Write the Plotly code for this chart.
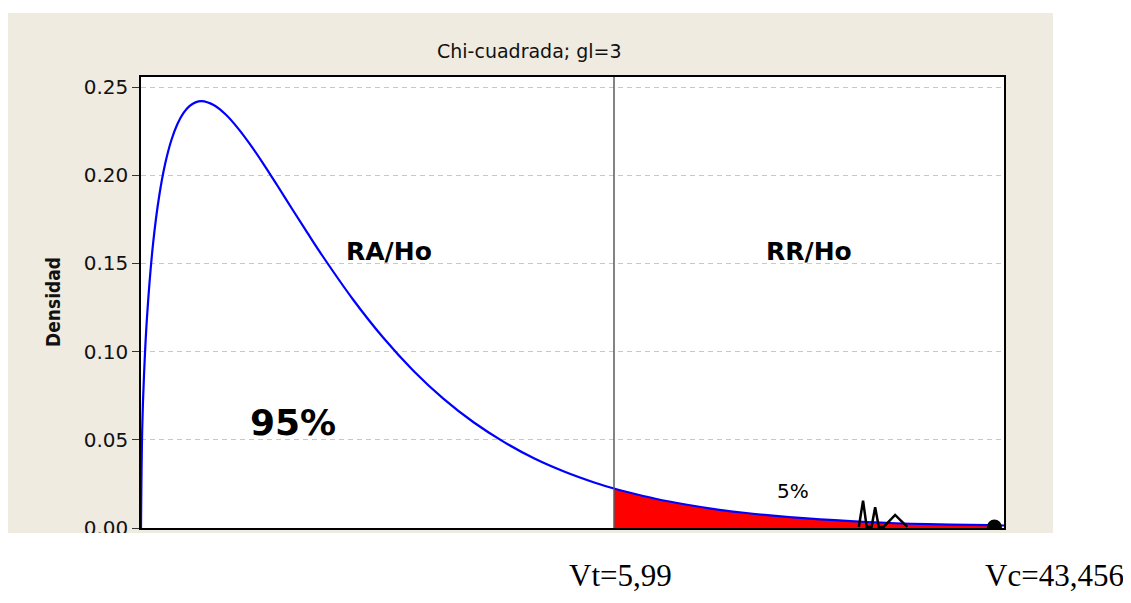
import plotly.graph_objects as go

# ---- data ----
chi_x = [0, 0.02, 0.05, 0.1, 0.2, 0.3, 0.4, 0.5, 0.6, 0.7, 0.8, 0.9, 1.0, 1.2, 1.4,
         1.6, 1.8, 2.0, 2.25, 2.5, 2.75, 3.0, 3.5, 4.0, 4.5, 5.0, 5.5, 6.0, 6.5, 7.0,
         7.5, 7.815, 8.0, 8.5, 9.0, 9.5, 10, 11, 12, 13, 14, 14.1, 14.27]
density = [0, 0.0559, 0.0870, 0.1200, 0.1614, 0.1881, 0.2066, 0.2197, 0.2289, 0.2352,
           0.2392, 0.2413, 0.2420, 0.2398, 0.2344, 0.2267, 0.2176, 0.2076, 0.1943, 0.1807,
           0.1673, 0.1542, 0.1297, 0.1080, 0.0892, 0.0732, 0.0598, 0.0487, 0.0394, 0.0319,
           0.0257, 0.0224, 0.0207, 0.0166, 0.0133, 0.0106, 0.0085, 0.0054, 0.0034, 0.0022,
           0.0016, 0.0015, 0.0014]
critical_x = 7.815
vc_point_x = [14.1]
vc_point_y = [0.0006]
break_x = [11.86, 11.93, 11.99, 12.07, 12.13, 12.19, 12.27, 12.46, 12.66]
break_y = [0.0006, 0.0155, 0.0006, 0.0006, 0.0118, 0.0006, 0.0006, 0.0074, 0.0006]
y_ticks = [0.00, 0.05, 0.10, 0.15, 0.20, 0.25]
y_tick_labels = ["0.00", "0.05", "0.10", "0.15", "0.20", "0.25"]

tail_x = [x for x in chi_x if critical_x <= x <= vc_point_x[0]]
tail_y = [d for x, d in zip(chi_x, density) if critical_x <= x <= vc_point_x[0]]

# page body has an 8px margin on every side: shrink and shift the figure so it fits
OFF = 8
W, H = 1131 - OFF, 603 - 2 * OFF
L, R, T, B = 141, 1004, 77, 528   # plot area in reference pixels

fig = go.Figure()
fig.add_trace(go.Scatter(x=tail_x, y=tail_y, mode="lines", fill="tozeroy",
                         fillcolor="#FF0000", line=dict(width=0, color="#FF0000"),
                         hoverinfo="skip"))
fig.add_trace(go.Scatter(x=chi_x, y=density, mode="lines", line_shape="spline",
                         line=dict(color="#0000FF", width=2.2)))
fig.add_trace(go.Scatter(x=break_x, y=break_y, mode="lines",
                         line=dict(color="black", width=2.5)))
fig.add_trace(go.Scatter(x=vc_point_x, y=vc_point_y, mode="markers",
                         marker=dict(color="black", size=15)))

def px2paper_x(p):
    return (p - L) / (R - L)

def px2paper_y(p):
    return (B - p) / (B - T)

shapes = [
    dict(type="rect", xref="paper", yref="paper", layer="below",
         x0=px2paper_x(8), x1=px2paper_x(1053), y0=px2paper_y(533), y1=px2paper_y(13),
         fillcolor="#EFEBE1", line=dict(width=0)),
    dict(type="rect", xref="paper", yref="paper", layer="below",
         x0=0, x1=1, y0=0, y1=1, fillcolor="white", line=dict(width=0)),
    dict(type="line", xref="x", yref="paper", x0=critical_x, x1=critical_x, y0=0, y1=1,
         line=dict(color="#5A5A5A", width=1.5), layer="above"),
    dict(type="rect", xref="paper", yref="paper", layer="above",
         x0=px2paper_x(0), x1=px2paper_x(1131), y0=px2paper_y(610), y1=px2paper_y(533),
         fillcolor="white", line=dict(width=0)),
]

bold = "DejaVu Sans"
C = dict(xanchor="center", yanchor="middle", showarrow=False)
annotations = [
    dict(text="Chi-cuadrada; gl=3", xref="paper", yref="paper",
         x=px2paper_x(529), y=px2paper_y(51),
         font=dict(family="DejaVu Sans", size=19, color="#111"), **C),
    dict(text="<b>Densidad</b>", xref="paper", yref="paper", textangle=-90,
         x=px2paper_x(53), y=px2paper_y(302),
         font=dict(family="DejaVu Sans Condensed, DejaVu Sans", size=19, color="#111"), **C),
    dict(text="<b>RA/Ho</b>", x=4.10, y=0.1568,
         font=dict(family=bold, size=25, color="black"), **C),
    dict(text="<b>RR/Ho</b>", x=11.04, y=0.1568,
         font=dict(family=bold, size=25, color="black"), **C),
    dict(text="<b>95%</b>", x=2.51, y=0.0597,
         font=dict(family=bold, size=36, color="black"), **C),
    dict(text="5%", x=10.78, y=0.0210,
         font=dict(family="DejaVu Sans", size=20, color="black"), **C),
    dict(text="Vt=5,99", xref="paper", yref="paper",
         x=px2paper_x(620), y=px2paper_y(575),
         font=dict(family="Liberation Serif, Times New Roman", size=31, color="black"), **C),
    dict(text="Vc=43,456", xref="paper", yref="paper",
         x=px2paper_x(1054), y=px2paper_y(575),
         font=dict(family="Liberation Serif, Times New Roman", size=31, color="black"), **C),
]

ymax = 0.25 + (87 - T) / 88 * 0.05
xmax = (R - L) / ((614 - L) / critical_x)

fig.update_layout(
    width=W, height=H,
    margin=dict(l=L - OFF, r=W - (R - OFF), t=T - OFF, b=H - (B - OFF), pad=0),
    paper_bgcolor="white", plot_bgcolor="white",
    showlegend=False,
    shapes=shapes, annotations=annotations,
    xaxis=dict(range=[0, xmax], showticklabels=False, ticks="", showgrid=False,
               zeroline=False, showline=True, linecolor="black", linewidth=1.5,
               mirror=True),
    yaxis=dict(range=[0, ymax], tickvals=y_ticks, ticktext=y_tick_labels,
               ticks="outside", ticklen=7, tickcolor="#333", tickwidth=1.2,
               tickfont=dict(family="DejaVu Sans", size=20, color="#111"),
               showgrid=True, gridcolor="#C8C8C8", griddash="5px,4px", gridwidth=1,
               zeroline=False, showline=True, linecolor="black", linewidth=1.5,
               mirror=True),
)

fig.write_html("out.html")
